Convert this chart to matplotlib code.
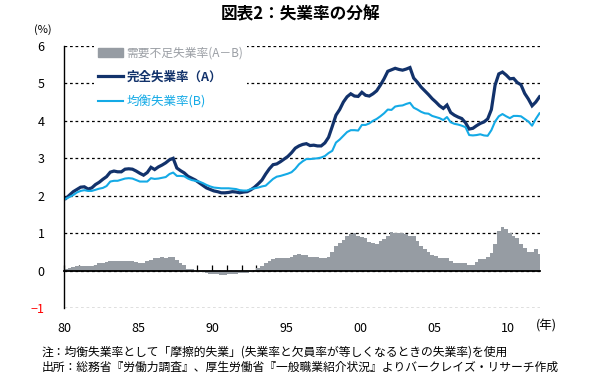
import matplotlib
matplotlib.use("Agg")
import matplotlib.pyplot as plt
from matplotlib.patches import Patch
from matplotlib.lines import Line2D
import numpy as np

plt.rcParams['font.family'] = ['Noto Sans CJK JP', 'DejaVu Sans']

# quarterly data, 1980Q1 - 2012Q1
start_year = 1980
actual = [  # 完全失業率(A)
    1.93, 2.02, 2.11, 2.17, 2.23, 2.24, 2.18, 2.21, 2.30, 2.36, 2.44, 2.51,
    2.63, 2.66, 2.64, 2.64, 2.71, 2.72, 2.71, 2.66, 2.60, 2.55, 2.62, 2.76,
    2.70, 2.77, 2.82, 2.88, 2.96, 3.00, 2.74, 2.67, 2.61, 2.52, 2.47, 2.42,
    2.35, 2.28, 2.21, 2.17, 2.13, 2.11, 2.08, 2.08, 2.09, 2.11, 2.10, 2.08,
    2.10, 2.11, 2.16, 2.23, 2.32, 2.42, 2.58, 2.72, 2.83, 2.85, 2.91, 2.98,
    3.05, 3.15, 3.27, 3.33, 3.37, 3.39, 3.34, 3.35, 3.33, 3.33, 3.41, 3.56,
    3.85, 4.15, 4.30, 4.50, 4.64, 4.72, 4.66, 4.65, 4.76, 4.68, 4.66, 4.72,
    4.80, 4.95, 5.12, 5.32, 5.36, 5.40, 5.37, 5.35, 5.38, 5.42, 5.14, 5.03,
    4.90, 4.80, 4.70, 4.59, 4.50, 4.40, 4.33, 4.42, 4.22, 4.15, 4.10, 4.06,
    3.95, 3.78, 3.80, 3.87, 3.93, 3.97, 4.05, 4.30, 4.95, 5.25, 5.30, 5.22,
    5.12, 5.13, 5.02, 4.96, 4.73, 4.58, 4.40, 4.50, 4.64,
]
equilibrium = [  # 均衡失業率(B)
    1.92, 1.97, 2.02, 2.09, 2.13, 2.15, 2.13, 2.13, 2.16, 2.19, 2.21, 2.26,
    2.38, 2.40, 2.40, 2.43, 2.46, 2.47, 2.46, 2.42, 2.38, 2.38, 2.38, 2.47,
    2.45, 2.46, 2.48, 2.50, 2.58, 2.62, 2.53, 2.53, 2.52, 2.46, 2.42, 2.40,
    2.38, 2.34, 2.29, 2.25, 2.22, 2.21, 2.20, 2.20, 2.20, 2.19, 2.18, 2.15,
    2.14, 2.14, 2.18, 2.20, 2.22, 2.25, 2.27, 2.36, 2.45, 2.51, 2.53, 2.56,
    2.59, 2.63, 2.72, 2.84, 2.92, 2.98, 2.98, 2.99, 3.00, 3.02, 3.06, 3.14,
    3.20, 3.42, 3.50, 3.60, 3.70, 3.75, 3.75, 3.74, 3.89, 3.89, 3.93, 4.00,
    4.05, 4.12, 4.20, 4.30, 4.29, 4.38, 4.40, 4.41, 4.45, 4.48, 4.35, 4.30,
    4.24, 4.20, 4.19, 4.13, 4.10, 4.07, 4.02, 4.10, 3.96, 3.92, 3.90, 3.87,
    3.83, 3.62, 3.61, 3.62, 3.64, 3.61, 3.60, 3.75, 3.98, 4.12, 4.18, 4.12,
    4.07, 4.13, 4.13, 4.12, 4.05, 3.98, 3.87, 4.05, 4.20,
]
gap = [  # 需要不足失業率(A-B)
    0.04, 0.07, 0.11, 0.12, 0.14, 0.14, 0.12, 0.12, 0.16, 0.20, 0.20, 0.23,
    0.27, 0.27, 0.26, 0.25, 0.27, 0.25, 0.25, 0.24, 0.22, 0.22, 0.27, 0.30,
    0.33, 0.35, 0.36, 0.35, 0.36, 0.36, 0.28, 0.22, 0.15, 0.05, 0.05, 0.00,
    -0.03, -0.04, -0.05, -0.08, -0.08, -0.09, -0.11, -0.11, -0.09, -0.09, -0.08, -0.07,
    -0.06, -0.05, -0.02, 0.02, 0.07, 0.12, 0.20, 0.27, 0.32, 0.35, 0.35, 0.35,
    0.35, 0.38, 0.42, 0.45, 0.43, 0.41, 0.38, 0.36, 0.36, 0.33, 0.33, 0.36,
    0.50, 0.65, 0.75, 0.83, 0.92, 0.97, 1.00, 0.92, 0.90, 0.88, 0.78, 0.73,
    0.72, 0.80, 0.86, 0.93, 1.03, 1.02, 1.02, 1.00, 0.97, 0.93, 0.93, 0.80,
    0.65, 0.58, 0.50, 0.42, 0.40, 0.33, 0.33, 0.34, 0.27, 0.21, 0.21, 0.21,
    0.21, 0.16, 0.16, 0.24, 0.31, 0.31, 0.36, 0.47, 0.72, 1.05, 1.18, 1.12,
    1.02, 0.93, 0.87, 0.72, 0.60, 0.51, 0.51, 0.58, 0.45,
]
year_ticks = [1980, 1985, 1990, 1995, 2000, 2005, 2010]
year_labels = ['80', '85', '90', '95', '00', '05', '10']

t = start_year + 0.125 + 0.25 * np.arange(len(actual))

navy = '#12326b'
sky = '#14aae6'
grey = '#969ca3'

fig = plt.figure(figsize=(6, 3.82), dpi=100)
ax = fig.add_axes([64 / 600, 1 - 308.3 / 382, 476 / 600, 262.5 / 382])

ax.bar(t, gap, width=0.25, color=grey, linewidth=0)
ax.plot(t, actual, color=navy, lw=2.3, solid_joinstyle='miter')
ax.plot(t, equilibrium, color=sky, lw=1.5)

ax.set_xlim(1980, 2012.16)
ax.set_ylim(-1, 6)
ax.set_yticks(range(-1, 7))
ax.set_axisbelow(True)
ax.grid(axis='y', color='black', lw=0.9, linestyle=(0, (2.2, 2.2)))

for s in ['top', 'right']:
    ax.spines[s].set_visible(False)
ax.spines['left'].set_linewidth(1.0)
ax.spines['bottom'].set_position(('data', 0))
ax.spines['bottom'].set_linewidth(1.3)

ax.set_xticks(range(1980, 2013))
ax.tick_params(axis='x', direction='in', length=4, width=0.9, labelbottom=False)
ax.tick_params(axis='y', length=0, pad=14, labelsize=9)
for lab in ax.get_yticklabels():
    if lab.get_text() in ('-1', '−1'):
        lab.set_color('red')

sec = ax.secondary_xaxis('bottom')
sec.set_xticks(year_ticks, year_labels)
sec.spines['bottom'].set_visible(False)
sec.tick_params(length=0, pad=10, labelsize=9)

handles = [
    Patch(color=grey),
    Line2D([], [], color=navy, lw=2.3),
    Line2D([], [], color=sky, lw=1.5),
]
labels = ['需要不足失業率(A－B)', '完全失業率（A）', '均衡失業率(B)']
leg = ax.legend(handles, labels, loc='upper left', bbox_to_anchor=(0.05, 1.035),
                frameon=True, framealpha=1, facecolor='white', edgecolor='none',
                fancybox=False, fontsize=9, handlelength=2.0, handletextpad=0.3,
                labelspacing=0.9, borderpad=0.3)
txt = leg.get_texts()
txt[0].set_color('#9a9ea4')
txt[0].set_fontsize(8.5)
txt[1].set_color(navy)
txt[1].set_fontweight('bold')
txt[2].set_color(sky)

fig.text(0.5, 1 - 14 / 382, '図表2：失業率の分解', ha='center', va='center',
         fontsize=12, fontweight='bold')
fig.text(43 / 600, 1 - 30 / 382, '(%)', ha='center', va='center', fontsize=8)
fig.text(546 / 600, 1 - 326 / 382, '(年)', ha='center', va='center', fontsize=9)
fig.text(42 / 600, 1 - 352 / 382,
         '注：均衡失業率として「摩擦的失業」(失業率と欠員率が等しくなるときの失業率)を使用',
         ha='left', va='center', fontsize=8.5)
fig.text(42 / 600, 1 - 367 / 382,
         '出所：総務省『労働力調査』、厚生労働省『一般職業紹介状況』よりバークレイズ・リサーチ作成',
         ha='left', va='center', fontsize=8.5)

fig.savefig('out.png', dpi=100)
